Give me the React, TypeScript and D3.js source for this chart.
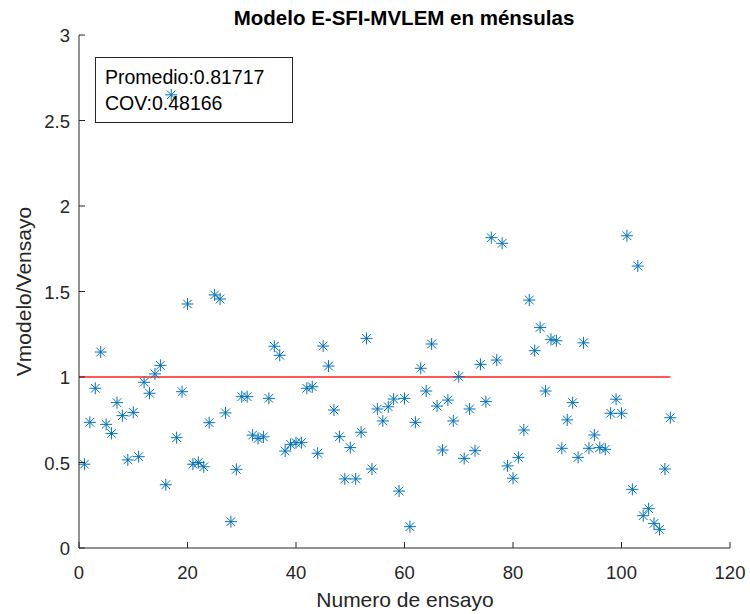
import React from "react";
import * as d3 from "d3";

const trialNumbers: number[] = d3.range(1, 110);
const ratioValues: number[] = [
  0.49, 0.735, 0.934, 1.146, 0.723, 0.67, 0.85, 0.774, 0.515, 0.793,
  0.534, 0.969, 0.905, 1.018, 1.068, 0.37, 2.65, 0.645, 0.914, 1.427,
  0.49, 0.5, 0.475, 0.733, 1.48, 1.456, 0.79, 0.154, 0.46, 0.885,
  0.885, 0.66, 0.64, 0.65, 0.875, 1.18, 1.127, 0.567, 0.606, 0.616,
  0.616, 0.934, 0.943, 0.554, 1.181, 1.064, 0.807, 0.651, 0.404, 0.587,
  0.404, 0.677, 1.226, 0.462, 0.813, 0.743, 0.826, 0.871, 0.333, 0.875,
  0.125, 0.735, 1.051, 0.918, 1.193, 0.83, 0.573, 0.865, 0.743, 1.002,
  0.524, 0.813, 0.569, 1.074, 0.856, 1.815, 1.099, 1.782, 0.48, 0.408,
  0.53, 0.69, 1.45, 1.154, 1.29, 0.918, 1.22, 1.212, 0.583, 0.749,
  0.85, 0.53, 1.2, 0.583, 0.661, 0.587, 0.577, 0.788, 0.87, 0.788,
  1.826, 0.343, 1.649, 0.189, 0.23, 0.144, 0.109, 0.462, 0.762,
];
const xTicks: number[] = [0, 20, 40, 60, 80, 100, 120];
const yTicks: number[] = [0, 0.5, 1, 1.5, 2, 2.5, 3];
const referenceLine: [number, number][] = [[0, 1], [109, 1]];
const statsLines: string[] = ["Promedio:0.81717", "COV:0.48166"];
const titleText = "Modelo E-SFI-MVLEM en ménsulas";
const xLabelText = "Numero de ensayo";
const yLabelText = "Vmodelo/Vensayo";

const W = 750;
const H = 614;
const left = 79;
const right = 730;
const top = 35;
const bottom = 548;
const font = "'Liberation Sans', Arial, Helvetica, sans-serif";
const axisColor = "#262626";
const markerColor = "#0072BD";

export default function App() {
  const x = d3.scaleLinear().domain([0, 120]).range([left, right]);
  const y = d3.scaleLinear().domain([0, 3]).range([bottom, top]);
  const line = d3
    .line<[number, number]>()
    .x((d) => x(d[0]))
    .y((d) => y(d[1]));
  const r = 6;
  const rd = r * 0.72;
  const starPath = `M${-r},0L${r},0M0,${-r}L0,${r}M${-rd},${-rd}L${rd},${rd}M${-rd},${rd}L${rd},${-rd}`;

  return (
    <div style={{ position: "absolute", left: 0, top: 0 }}>
      <svg width={W} height={H} style={{ display: "block", background: "#fff" }}>
        <rect x={0} y={0} width={W} height={H} fill="#fff" />
        <path d={line(referenceLine) || ""} stroke="#ff2020" strokeWidth={1.4} fill="none" />
        <g stroke={markerColor} strokeWidth={1} fill="none">
          {trialNumbers.map((t, i) => (
            <path key={i} d={starPath} transform={`translate(${x(t)},${y(ratioValues[i])})`} />
          ))}
        </g>
        <g stroke={axisColor} strokeWidth={1} fill="none">
          <line x1={left} y1={bottom} x2={right} y2={bottom} />
          <line x1={left} y1={bottom} x2={left} y2={top} />
          {xTicks.map((t) => (
            <line key={t} x1={x(t)} x2={x(t)} y1={bottom} y2={bottom - 6} />
          ))}
          {yTicks.map((t) => (
            <line key={t} x1={left} x2={left + 6} y1={y(t)} y2={y(t)} />
          ))}
        </g>
        <g fill={axisColor} fontFamily={font} fontSize={18.5}>
          {xTicks.map((t) => (
            <text key={t} x={x(t)} y={bottom + 31} textAnchor="middle">
              {t}
            </text>
          ))}
          {yTicks.map((t) => (
            <text key={t} x={left - 9} y={y(t) + 7} textAnchor="end">
              {t}
            </text>
          ))}
        </g>
        <text x={405} y={607} textAnchor="middle" fontFamily={font} fontSize={21} fill={axisColor}>
          {xLabelText}
        </text>
        <text
          transform={`translate(31,${(top + bottom) / 2}) rotate(-90)`}
          textAnchor="middle"
          fontFamily={font}
          fontSize={21}
          fill={axisColor}
        >
          {yLabelText}
        </text>
        <text x={404} y={25} textAnchor="middle" fontFamily={font} fontSize={20.5} fontWeight="bold" fill="#000">
          {titleText}
        </text>
        <rect x={95.5} y={57.5} width={197} height={65} fill="none" stroke={axisColor} strokeWidth={1} />
        {statsLines.map((s, i) => (
          <text key={i} x={105} y={84 + i * 26} fontFamily={font} fontSize={19.5} fill="#000">
            {s}
          </text>
        ))}
      </svg>
    </div>
  );
}
